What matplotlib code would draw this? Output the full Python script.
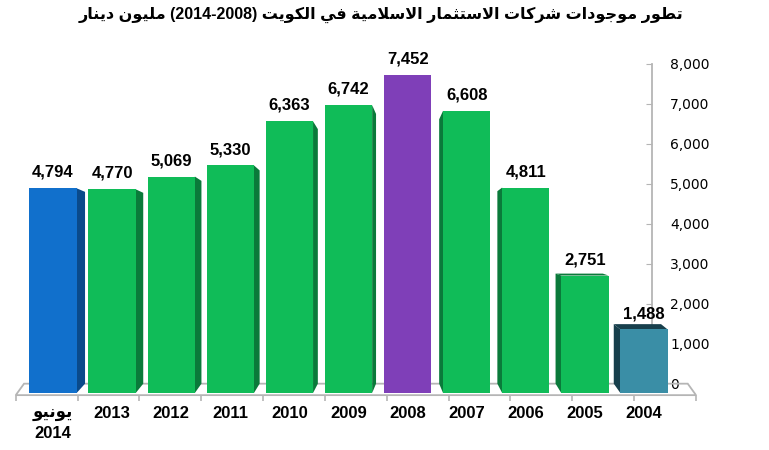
import numpy as np
import matplotlib.pyplot as plt
from matplotlib.patches import Polygon

# data
cats = ['يونيو\n2014', '2013', '2012', '2011', '2010', '2009', '2008', '2007', '2006', '2005', '2004']
vals = [4794, 4770, 5069, 5330, 6363, 6742, 7452, 6608, 4811, 2751, 1488]
yticks = [0, 1000, 2000, 3000, 4000, 5000, 6000, 7000, 8000]
title = 'تطور موجودات شركات الاستثمار الاسلامية في الكويت (2014-2008) مليون دينار'

front_col = ['#1170CC'] + ['#10BC58'] * 5 + ['#7F3FB8'] + ['#10BC58'] * 3 + ['#3A8EA6']
side_col = ['#0A4A8A'] + ['#0A7A3A'] * 5 + ['#5A2A85'] + ['#0A7A3A'] * 3 + ['#173F4C']

# arabic shaping (matplotlib does no shaping / rtl by itself)
FORMS = {
    'ا': ('\uFE8D', '\uFE8E', None, None),
    'ب': ('\uFE8F', '\uFE90', '\uFE91', '\uFE92'),
    'ة': ('\uFE93', '\uFE94', None, None),
    'ت': ('\uFE95', '\uFE96', '\uFE97', '\uFE98'),
    'ث': ('\uFE99', '\uFE9A', '\uFE9B', '\uFE9C'),
    'ج': ('\uFE9D', '\uFE9E', '\uFE9F', '\uFEA0'),
    'ح': ('\uFEA1', '\uFEA2', '\uFEA3', '\uFEA4'),
    'خ': ('\uFEA5', '\uFEA6', '\uFEA7', '\uFEA8'),
    'د': ('\uFEA9', '\uFEAA', None, None),
    'ذ': ('\uFEAB', '\uFEAC', None, None),
    'ر': ('\uFEAD', '\uFEAE', None, None),
    'ز': ('\uFEAF', '\uFEB0', None, None),
    'س': ('\uFEB1', '\uFEB2', '\uFEB3', '\uFEB4'),
    'ش': ('\uFEB5', '\uFEB6', '\uFEB7', '\uFEB8'),
    'ص': ('\uFEB9', '\uFEBA', '\uFEBB', '\uFEBC'),
    'ض': ('\uFEBD', '\uFEBE', '\uFEBF', '\uFEC0'),
    'ط': ('\uFEC1', '\uFEC2', '\uFEC3', '\uFEC4'),
    'ظ': ('\uFEC5', '\uFEC6', '\uFEC7', '\uFEC8'),
    'ع': ('\uFEC9', '\uFECA', '\uFECB', '\uFECC'),
    'غ': ('\uFECD', '\uFECE', '\uFECF', '\uFED0'),
    'ف': ('\uFED1', '\uFED2', '\uFED3', '\uFED4'),
    'ق': ('\uFED5', '\uFED6', '\uFED7', '\uFED8'),
    'ك': ('\uFED9', '\uFEDA', '\uFEDB', '\uFEDC'),
    'ل': ('\uFEDD', '\uFEDE', '\uFEDF', '\uFEE0'),
    'م': ('\uFEE1', '\uFEE2', '\uFEE3', '\uFEE4'),
    'ن': ('\uFEE5', '\uFEE6', '\uFEE7', '\uFEE8'),
    'ه': ('\uFEE9', '\uFEEA', '\uFEEB', '\uFEEC'),
    'و': ('\uFEED', '\uFEEE', None, None),
    'ى': ('\uFEEF', '\uFEF0', None, None),
    'ي': ('\uFEF1', '\uFEF2', '\uFEF3', '\uFEF4'),
}


def shape(word):
    out = []
    prev = None
    i = 0
    while i < len(word):
        c = word[i]
        if c not in FORMS:
            out.append(c)
            prev = None
            i += 1
            continue
        jp = prev is not None and FORMS[prev][2] is not None
        if c == 'ل' and i + 1 < len(word) and word[i + 1] == 'ا':
            out.append('\uFEFC' if jp else '\uFEFB')
            prev = 'ا'
            i += 2
            continue
        nxt = word[i + 1] if i + 1 < len(word) else None
        jn = FORMS[c][2] is not None and nxt in FORMS
        f = FORMS[c]
        if jp and jn:
            out.append(f[3])
        elif jp:
            out.append(f[1])
        elif jn:
            out.append(f[2])
        else:
            out.append(f[0])
        prev = c
        i += 1
    return ''.join(out)


def ar(text):
    lines = []
    for line in text.split('\n'):
        vis = []
        for t in line.split(' '):
            if any(c in FORMS for c in t):
                vis.append(shape(t)[::-1])
            else:
                vis.append(t)
        lines.append(' '.join(vis[::-1]))
    return '\n'.join(lines)


fam = ['Liberation Sans', 'DejaVu Sans']
fam_n = ['Liberation Sans Narrow', 'Liberation Sans', 'DejaVu Sans']

W, H = 769, 450
px_x0, px_cat = 53.0, 59.1      # pixel of first bar centre, pixels per category
px_y0, px_k = 393.0, 42.7       # pixel of front zero, pixels per 1000
ax_l, ax_r, ax_t, ax_b = 5, 725, 40, 400

fig = plt.figure(figsize=(W / 100, H / 100), dpi=100)
ax = fig.add_axes([ax_l / W, 1 - ax_b / H, (ax_r - ax_l) / W, (ax_b - ax_t) / H])
ax.set_xlim((ax_l - px_x0) / px_cat, (ax_r - px_x0) / px_cat)
ax.set_ylim((px_y0 - ax_b) / px_k * 1000, (px_y0 - ax_t) / px_k * 1000)

n = len(vals)
x = np.arange(n)
bw = 0.8
kp = 0.063     # depth shrink
vv = 3466      # eye level
mid = int(np.argmax(vals))


def back(v):
    return v + kp * (vv - v)


# floor
fy = -50
fl = [x[0] - 0.63, x[-1] + 0.88]
bl = [x[0] - 0.49, x[-1] + 0.74]
floor = Polygon([(fl[0], fy), (fl[1], fy), (bl[1], back(0)), (bl[0], back(0))],
                closed=True, facecolor='none', edgecolor='#B5B5B5', lw=1.3,
                zorder=1, clip_on=False)
ax.add_patch(floor)
ax.vlines(np.linspace(fl[0], fl[1], 12), fy - 130, fy, color='#B5B5B5', lw=1.2,
          clip_on=False, zorder=1)

# bars
ax.bar(x, vals, width=bw, color=front_col, zorder=3)
for i, v in enumerate(vals):
    d = i - mid
    if d == 0:
        continue
    s = (3 + 0.9 * abs(d)) / px_cat * (-np.sign(d))
    xe = x[i] + bw / 2 * (-np.sign(d))
    ax.add_patch(Polygon([(xe, 0), (xe + s, back(0)), (xe + s, back(v)), (xe, v)],
                         closed=True, facecolor=side_col[i], edgecolor='none', zorder=2.5))
    if back(v) > v:
        ax.add_patch(Polygon([(x[i] - bw / 2, v), (x[i] + bw / 2, v),
                              (x[i] + bw / 2 + s, back(v)), (x[i] - bw / 2 + s, back(v))],
                             closed=True, facecolor=side_col[i], edgecolor='none', zorder=2.6))

for i, v in enumerate(vals):
    ax.annotate(f'{v:,}', (x[i], v), xytext=(0, 6), textcoords='offset points',
                ha='center', va='bottom', fontsize=12, fontweight='bold', family=fam, zorder=5)

ax.set_xticks(x)
ax.set_xticklabels([ar(c) for c in cats], fontsize=12, fontweight='bold', family=fam_n)
for lb in ax.get_xticklabels():
    lb.set_linespacing(1.45)
ax.tick_params(axis='x', length=0, pad=4)
ax.set_yticks([])
for sp in ax.spines.values():
    sp.set_visible(False)

# value axis sits on the back wall
ax2 = ax.twinx()
lo, hi = ax.get_ylim()
ax2.set_ylim((lo - kp * vv) / (1 - kp), (hi - kp * vv) / (1 - kp))
ax2.set_yticks(yticks)
ax2.set_yticklabels([f'{t:,}' for t in yticks], fontsize=12, fontweight='bold', family=fam)
ax2.spines['right'].set_position(('data', (652 - px_x0) / px_cat))
ax2.spines['right'].set_bounds(yticks[0], yticks[-1])
ax2.spines['right'].set_color('#B5B5B5')
ax2.spines['right'].set_linewidth(1.3)
for k in ['left', 'top', 'bottom']:
    ax2.spines[k].set_visible(False)
ax2.tick_params(axis='y', direction='in', length=4, color='#B5B5B5', pad=13)
ax.set_zorder(2)
ax2.set_zorder(1)
ax.patch.set_visible(False)

fig.text(0.496, 0.967, ar(title), ha='center', va='center', fontsize=11.5,
         fontweight='bold', family=fam)

fig.savefig('out.png', dpi=100)
